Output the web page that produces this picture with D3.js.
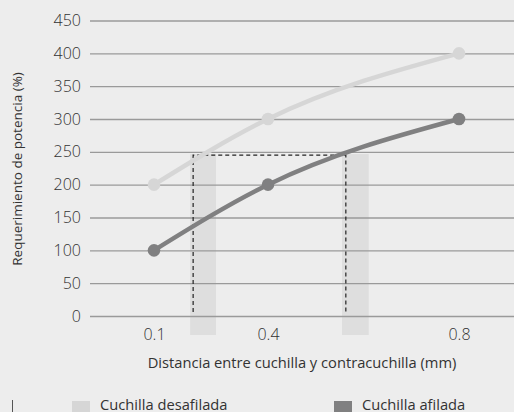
<!DOCTYPE html>
<html><head><meta charset="utf-8">
<script src="https://cdn.jsdelivr.net/npm/d3@7"></script>
<style>
html,body{margin:0;padding:0;background:#ededed;}
svg{display:block;font-family:"Open Sans",sans-serif;}
</style></head>
<body>
<svg id="c" width="514" height="412"></svg>
<script>
const xCategories = [0.1, 0.4, 0.8];
const xTickLabels = ["0.1", "0.4", "0.8"];
const yTicks = [0, 50, 100, 150, 200, 250, 300, 350, 400, 450];
const seriesNames = ["Cuchilla desafilada", "Cuchilla afilada"];
const dullValues = [200, 300, 400];
const sharpValues = [100, 200, 300];
const refLevel = 245;
const refX = [0.203, 0.563];
const bandRanges = [[0.195, 0.263], [0.555, 0.611]];
const yTitle = "Requerimiento de potencia (%)";
const xTitle = "Distancia entre cuchilla y contracuchilla (mm)";

const svg = d3.select("#c");
const x = d3.scaleLinear().domain(xCategories).range([154, 268, 459]);
const y = d3.scaleLinear().domain([0, 450]).range([316, 20.5]);
const colors = ["#d6d6d6", "#808081"];

// bands
svg.append("g").selectAll("rect").data(bandRanges).join("rect")
  .attr("x", d => x(d[0])).attr("width", d => x(d[1]) - x(d[0]))
  .attr("y", y(refLevel) - 1).attr("height", 335 - y(refLevel) + 1)
  .attr("fill", "#dedede");

// grid
const yAxis = d3.axisLeft(y).tickValues(yTicks).tickSize(0).tickPadding(9);
const gy = svg.append("g").attr("transform", "translate(90,0)").call(yAxis);
gy.select(".domain").remove();
gy.selectAll(".tick line").attr("x2", 430).attr("stroke", "#9a9a9a").attr("stroke-width", 1.3);
gy.selectAll(".tick text").attr("font-size", 16).attr("fill", "#333").attr("font-weight", 300)
  .attr("font-family", "'Open Sans',sans-serif");

// x axis labels
const xAxis = d3.axisBottom(x).tickValues(xCategories).tickFormat((d, i) => xTickLabels[i]).tickSize(0).tickPadding(13);
const gx = svg.append("g").attr("transform", "translate(0,316)").call(xAxis);
gx.select(".domain").remove();
gx.selectAll(".tick text").attr("font-size", 16).attr("fill", "#333").attr("font-weight", 300)
  .attr("font-family", "'Open Sans',sans-serif");

// dashed reference
const dashPath = d3.path();
dashPath.moveTo(x(refX[0]), 312);
dashPath.lineTo(x(refX[0]), y(refLevel));
dashPath.lineTo(x(refX[1]), y(refLevel));
dashPath.lineTo(x(refX[1]), 312);
svg.append("path").attr("d", dashPath.toString()).attr("fill", "none")
  .attr("stroke", "#222").attr("stroke-width", 1.2).attr("stroke-dasharray", "4,3");

// lines
const line = d3.line().x((d, i) => x(xCategories[i])).y(d => y(d)).curve(d3.curveMonotoneX);
[dullValues, sharpValues].forEach((vals, k) => {
  svg.append("path").datum(vals).attr("d", line).attr("fill", "none")
    .attr("stroke", colors[k]).attr("stroke-width", 4.5);
  svg.append("g").selectAll("circle").data(vals).join("circle")
    .attr("cx", (d, i) => x(xCategories[i])).attr("cy", d => y(d)).attr("r", 6.3)
    .attr("fill", colors[k]);
});

// titles
svg.append("text").attr("transform", "translate(22,169) rotate(-90)")
  .attr("text-anchor", "middle").attr("font-size", 13.5).attr("fill", "#333").text(yTitle);
svg.append("text").attr("x", 302).attr("y", 368)
  .attr("text-anchor", "middle").attr("font-size", 14.7).attr("fill", "#333").text(xTitle);

// legend
const legX = [72, 334];
seriesNames.forEach((n, k) => {
  svg.append("rect").attr("x", legX[k]).attr("y", 401).attr("width", 18).attr("height", 14).attr("fill", colors[k]);
  svg.append("text").attr("x", legX[k] + 28).attr("y", 410).attr("font-size", 14.7).attr("fill", "#333").text(n);
});
svg.append("line").attr("x1", 12.5).attr("x2", 12.5).attr("y1", 400).attr("y2", 412).attr("stroke", "#555").attr("stroke-width", 1);
</script>
</body></html>
